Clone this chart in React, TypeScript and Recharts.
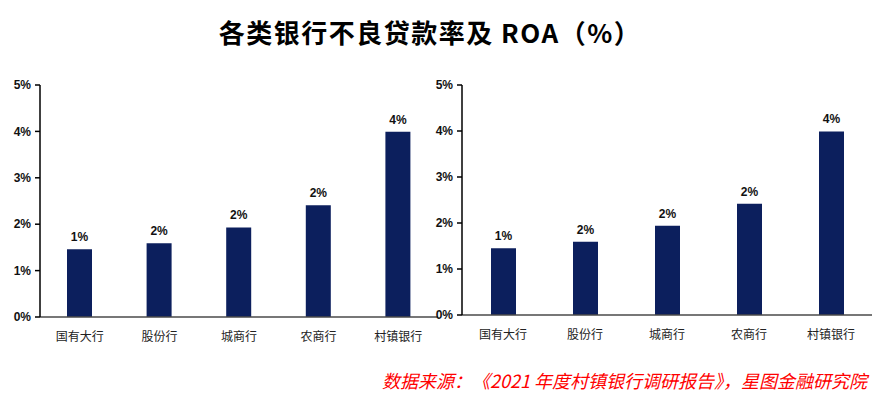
import { BarChart, Bar, XAxis, YAxis, LabelList } from "recharts";

// 银行类别
const banks = ["国有大行", "股份行", "城商行", "农商行", "村镇银行"];
// 左图（不良贷款率，%）
const nplRates = [1.46, 1.59, 1.93, 2.41, 3.99];
// 右图（ROA，%）
const roaRates = [1.45, 1.59, 1.94, 2.42, 3.99];
const yTicks = [0, 1, 2, 3, 4, 5];

const leftData = banks.map((name, i) => ({ name, value: nplRates[i] }));
const rightData = banks.map((name, i) => ({ name, value: roaRates[i] }));

const BAR_COLOR = "#0c1f5d";
const numFont = "'Liberation Sans', Arial, sans-serif";
const cjkFont = "'Noto Sans CJK SC', sans-serif";

function Panel({
  data,
  width,
  yWidth,
  marginRight,
  xHeight,
}: {
  data: { name: string; value: number }[];
  width: number;
  yWidth: number;
  marginRight: number;
  xHeight: number;
}) {
  return (
    <BarChart
      width={width}
      height={280}
      data={data}
      margin={{ top: 15, right: marginRight, left: 0, bottom: 0 }}
      barCategoryGap={0}
    >
      <XAxis
        dataKey="name"
        height={xHeight}
        tickLine={false}
        tickSize={0}
        tickMargin={15}
        axisLine={{ stroke: "#4a4a4a", strokeWidth: 1.5 }}
        tick={{ fontSize: 12, fill: "#222", fontFamily: cjkFont }}
        interval={0}
      />
      <YAxis
        width={yWidth}
        domain={[0, 5]}
        ticks={yTicks}
        tickFormatter={(v: number) => `${v}%`}
        tickSize={5}
        tickMargin={4}
        axisLine={{ stroke: "#000", strokeWidth: 1.5 }}
        tickLine={{ stroke: "#000", strokeWidth: 1.5 }}
        tick={{ fontSize: 12, fill: "#111", fontFamily: numFont, fontWeight: "bold" }}
      />
      <Bar dataKey="value" fill={BAR_COLOR} barSize={25} isAnimationActive={false}>
        <LabelList
          dataKey="value"
          position="top"
          offset={8}
          formatter={(v: unknown) => `${Math.round(Number(v))}%`}
          style={{ fontSize: 12, fill: "#111", fontFamily: numFont, fontWeight: "bold" }}
        />
      </Bar>
    </BarChart>
  );
}

export default function App() {
  return (
    <div style={{ position: "absolute", left: 0, top: 0, width: 886, height: 395, background: "#fff" }}>
      <style>{`body{margin:0}`}</style>
      <div
        style={{
          position: "absolute",
          left: 0,
          top: 15,
          width: 860,
          textAlign: "center",
          fontFamily: cjkFont,
          fontSize: 26,
          fontWeight: "bold",
          letterSpacing: 1.5,
          lineHeight: "34px",
          color: "#000",
        }}
      >
        各类银行不良贷款率及 ROA（%）
      </div>
      <div style={{ position: "absolute", left: 0, top: 70 }}>
        <Panel data={leftData} width={440} yWidth={40} marginRight={2} xHeight={33} />
      </div>
      <div style={{ position: "absolute", left: 420, top: 70 }}>
        <Panel data={rightData} width={466} yWidth={42} marginRight={14} xHeight={35} />
      </div>
      <div
        style={{
          position: "absolute",
          right: 19,
          top: 368,
          fontFamily: cjkFont,
          fontSize: 18,
          fontStyle: "italic",
          lineHeight: "24px",
          color: "#ff0000",
          whiteSpace: "nowrap",
        }}
      >
        数据来源：《2021 年度村镇银行调研报告》，星图金融研究院
      </div>
    </div>
  );
}
